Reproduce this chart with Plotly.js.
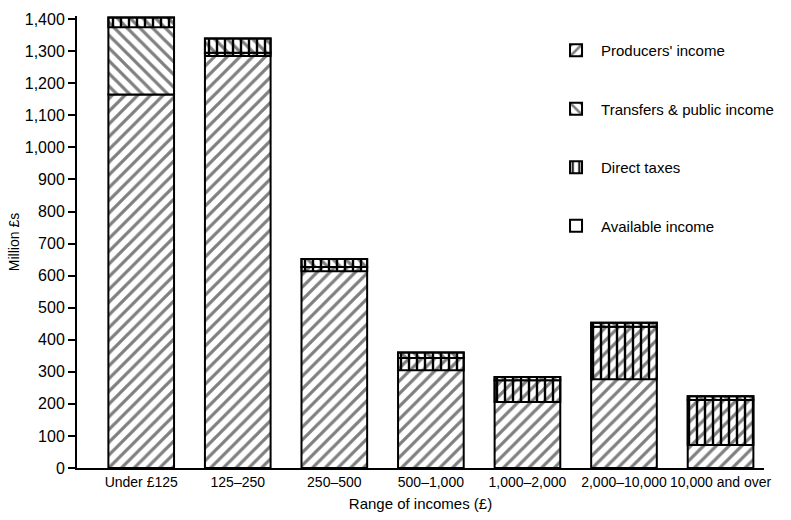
<!DOCTYPE html>
<html><head><meta charset="utf-8">
<script src="https://cdn.plot.ly/plotly-3.0.1.min.js"></script>
<style>body{margin:0;background:#fff}#chart{width:791px;height:520px}</style>
</head><body><div id="chart"></div>
<script>
const categories = ["Under £125", "125–250", "250–500", "500–1,000", "1,000–2,000", "2,000–10,000", "10,000 and over"];
const producersIncome = [1165, 1295, 627, 343, 274, 441, 212];
const transfersIncome = [240, 45, 25, 17, 10, 12, 12];
const directTaxes = [30, 55, 38, 55, 78, 176, 152];

const totals = producersIncome.map((p, i) => p + transfersIncome[i]);
const taxBase = totals.map((t, i) => t - directTaxes[i]);
const availableIncome = taxBase;

const fontFam = "'Liberation Sans', Arial, sans-serif";
const line = {color: '#000', width: 2};

const traces = [
  {type: 'bar', name: "Producers' income", x: categories, y: producersIncome, base: 0,
   legendgroup: 'a',
   marker: {color: '#fff', line: line, pattern: {shape: '/', fgcolor: '#000', bgcolor: '#fff', size: 9, solidity: 0.36, fillmode: 'overlay'}},
   width: 0.68, hoverinfo: 'skip'},
  {type: 'bar', name: "Transfers & public income", x: categories, y: transfersIncome, base: producersIncome,
   legendgroup: 'b',
   marker: {color: '#fff', line: line, pattern: {shape: '\\', fgcolor: '#000', bgcolor: '#fff', size: 9, solidity: 0.36, fillmode: 'overlay'}},
   width: 0.68, hoverinfo: 'skip'},
  {type: 'bar', name: "Direct taxes", x: categories, y: directTaxes, base: taxBase,
   legendgroup: 'c',
   marker: {color: 'rgba(0,0,0,0)', line: line, pattern: {shape: '|', fgcolor: '#000', bgcolor: 'rgba(0,0,0,0)', size: 8, solidity: 0.3, fillmode: 'replace'}},
   width: 0.68, hoverinfo: 'skip'},
  {type: 'bar', name: "Available income", x: categories, y: availableIncome.map(() => null),
   legendgroup: 'd',
   marker: {color: '#fff', line: line}, width: 0.68, hoverinfo: 'skip'}
];

const layout = {
  width: 791, height: 520,
  margin: {l: 77, r: 27, t: 16, b: 52},
  paper_bgcolor: '#fff', plot_bgcolor: '#fff',
  barmode: 'overlay',
  font: {family: fontFam, size: 14, color: '#000'},
  xaxis: {
    range: [-0.665, 6.45], showline: true, linecolor: '#000', linewidth: 2,
    ticks: '', showgrid: false, zeroline: false, tickangle: 0,
    tickfont: {size: 14},
    title: {text: 'Range of incomes (£)', font: {size: 15}, standoff: 10}
  },
  yaxis: {
    range: [0, 1410], dtick: 100, tickformat: ',d', showline: true, linecolor: '#000', linewidth: 2,
    ticks: 'outside', ticklen: 7, tickwidth: 2, tickcolor: '#000',
    showgrid: false, zeroline: false, tickfont: {size: 16},
    title: {text: 'Million £s', font: {size: 14}, standoff: 2}
  },
  showlegend: true,
  legend: {x: 0.69, y: 0.96, xanchor: 'left', yanchor: 'top', bgcolor: 'rgba(0,0,0,0)',
    font: {size: 15}, tracegroupgap: 36, traceorder: 'grouped', itemwidth: 40}
};

Plotly.newPlot('chart', traces, layout, {displayModeBar: false, staticPlot: true});
</script>
</body></html>
